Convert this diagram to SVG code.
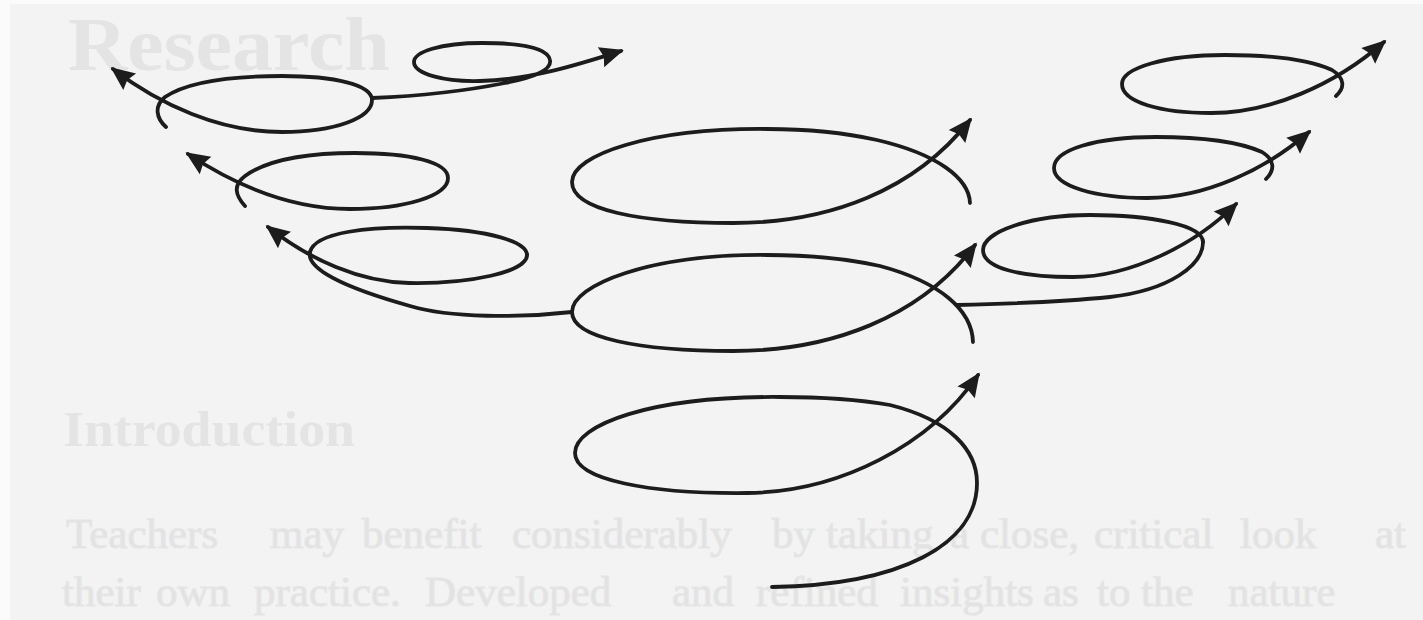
<svg xmlns="http://www.w3.org/2000/svg" width="1423" height="620" viewBox="0 0 1423 620">
  <style>
    .bg { fill: #f3f3f3; }
    .ghost { font-family: "Liberation Serif", "DejaVu Serif", serif; }
    .ghost-h { font-weight: bold; fill: #e4e4e4; }
    .ghost-b { fill: #e2e2e2; stroke: #e6e6e6; stroke-width: 1.2; font-size: 43px; }
    .loop { fill: none; stroke: #1c1c1c; stroke-width: 3.8; stroke-linecap: round; stroke-linejoin: round; }
    .arrow { marker-end: url(#head); }
  </style>
  <defs>
    <marker id="head" markerUnits="userSpaceOnUse" viewBox="-26 -12 30 24" refX="-1" refY="0" markerWidth="30" markerHeight="24" orient="auto">
      <path d="M2,0 L-22,-10.5 L-19,0 L-22,10.5 Z" fill="#1c1c1c"/>
    </marker>
  </defs>

  <rect x="0" y="0" width="1423" height="620" fill="#fbfbfb"/>
  <rect class="bg" x="10" y="4" width="1413" height="616"/>

  <g id="page-bleed" class="ghost">
    <text class="ghost-h" x="68" y="70" font-size="76" textLength="322" lengthAdjust="spacingAndGlyphs">Research</text>
    <text class="ghost-h" x="63" y="446" font-size="50" textLength="292" lengthAdjust="spacingAndGlyphs">Introduction</text>
    <text class="ghost-b" y="548"><tspan x="66">Teachers</tspan><tspan x="270">may</tspan><tspan x="362">benefit</tspan><tspan x="512">considerably</tspan><tspan x="772">by</tspan><tspan x="826">taking</tspan><tspan x="950">a</tspan><tspan x="980">close,</tspan><tspan x="1094">critical</tspan><tspan x="1240">look</tspan><tspan x="1375">at</tspan></text>
    <text class="ghost-b" y="606"><tspan x="62">their</tspan><tspan x="156">own</tspan><tspan x="254">practice.</tspan><tspan x="425">Developed</tspan><tspan x="672">and</tspan><tspan x="756">refined</tspan><tspan x="900">insights</tspan><tspan x="1043">as</tspan><tspan x="1097">to</tspan><tspan x="1141">the</tspan><tspan x="1228">nature</tspan></text>
  </g>

  <g id="central-loop-1">
    <path class="loop arrow" d="M772,587 C900,585 977,545 977,483 C977,450 950,420 890,405 C850,398 815,397 780,397 C650,396 575,425 575,453 C575,480 650,494 747,493 C840,492 930,445 978,375"/>
  </g>
  <g id="central-loop-2">
    <path class="loop arrow" d="M973,342 C972,310 940,282 880,266 C840,257 800,255 767,255 C650,254 572,285 572,312 C572,338 640,351 733,351 C830,351 920,318 975,245"/>
  </g>
  <g id="central-loop-3">
    <path class="loop arrow" d="M970,203 C969,178 937,154 877,140 C837,131 800,129 767,129 C650,128 572,155 572,182 C572,210 640,223 733,223 C830,223 915,190 970,120"/>
  </g>

  <g id="left-loop-1">
    <path class="loop arrow" d="M166,127 C156,118 154,106 165,97 C190,80 235,76 282,76 C335,76 372,85 372,100 C372,118 335,132 282,132 C220,132 160,105 113,69"/>
  </g>
  <g id="left-loop-1-spin">
    <path class="loop arrow" d="M372,98 C420,96 470,90 505,83 C535,77 552,70 550,60 C548,48 520,43 482,43 C440,43 414,52 414,62 C414,74 445,82 480,81 C530,80 580,64 621,51"/>
  </g>
  <g id="left-loop-2">
    <path class="loop arrow" d="M245,206 C235,195 233,185 245,176 C270,158 310,153 355,153 C410,153 448,162 448,178 C448,196 405,209 350,209 C290,209 235,185 188,154"/>
  </g>
  <g id="left-loop-3">
    <path class="loop arrow" d="M527,255 C527,272 470,284 409,283 C360,282 310,260 268,227"/>
    <path class="loop" d="M310,252 C315,232 370,226 427,228 C490,230 527,242 527,255"/>
  </g>

  <g id="right-loop-1">
    <path class="loop arrow" d="M1336,96 C1345,88 1345,78 1332,70 C1305,58 1265,55 1225,55 C1165,55 1122,68 1122,84 C1122,102 1160,113 1211,113 C1270,113 1335,85 1384,42"/>
  </g>
  <g id="right-loop-2">
    <path class="loop arrow" d="M1266,179 C1275,170 1275,160 1262,152 C1235,140 1195,137 1156,137 C1095,137 1054,150 1054,168 C1054,186 1095,198 1147,198 C1205,198 1265,170 1309,132"/>
  </g>
  <g id="right-loop-3">
    <path class="loop arrow" d="M1203,242 C1203,225 1150,215 1090,215 C1030,215 983,232 983,250 C983,268 1020,277 1073,277 C1130,277 1195,245 1236,204"/>
  </g>

  <g id="connectors">
    <path class="loop" d="M572,312 C520,318 450,318 410,306 C360,292 305,272 310,252"/>
    <path class="loop" d="M957,305 C1000,304 1060,302 1110,297 C1170,290 1203,265 1203,242"/>
  </g>
</svg>
